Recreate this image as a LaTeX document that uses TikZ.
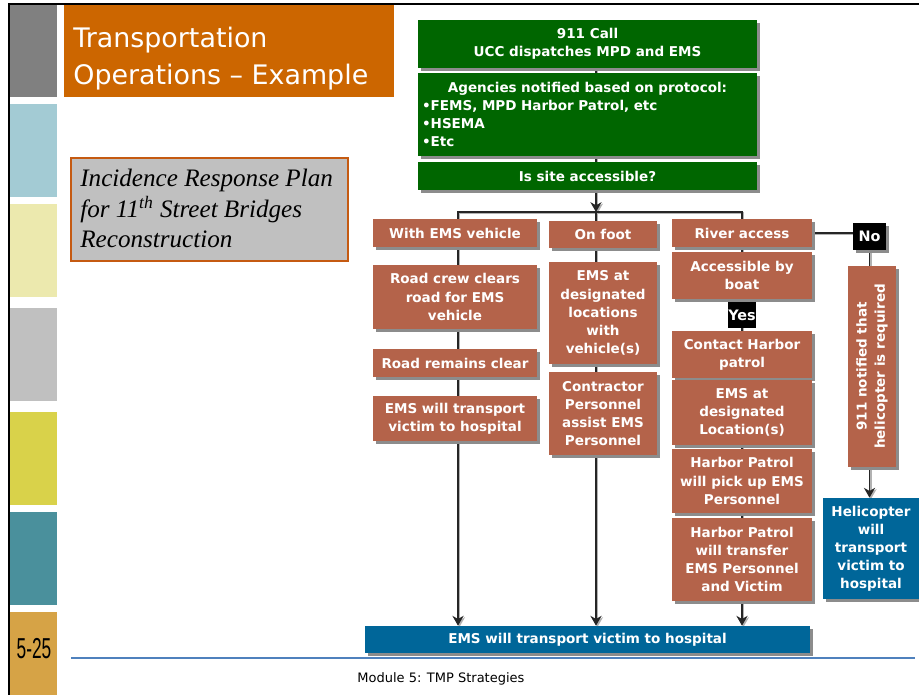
\documentclass[tikz,border=0pt]{standalone}
\usepackage{fontspec}
\setmainfont{DejaVu Sans}
\newfontfamily\itserif{Liberation Serif}
\newfontfamily\numsans{Liberation Sans}
\usetikzlibrary{arrows.meta,shadows,fit}
\definecolor{dgreen}{HTML}{006600}
\definecolor{brick}{RGB}{180,99,74}
\definecolor{dblue}{HTML}{006699}
\definecolor{titleor}{HTML}{CC6600}
\definecolor{rust}{HTML}{C55A11}
\definecolor{silver}{HTML}{C0C0C0}
\definecolor{sbgray}{HTML}{808080}
\definecolor{sbblue}{HTML}{A3CBD4}
\definecolor{sbyel}{HTML}{ECE9AE}
\definecolor{sbolive}{HTML}{D9D24A}
\definecolor{sbteal}{HTML}{4A909C}
\definecolor{sborange}{HTML}{D6A346}
\definecolor{footblue}{RGB}{79,129,189}
\newcommand\boxfont{\fontsize{7.7}{10.3}\selectfont\bfseries}
\newcommand\titlefont{\fontsize{15.3}{21}\selectfont}
\newcommand\planfont{\itserif\itshape\fontsize{14.3}{17}\selectfont}
\newcommand\cn[2][]{\draw[conshadow,#1] #2; \draw[conline,#1] #2;}
% box from pixel corners: style, name, x1, y1, x2, y2, text
\newcommand\bx[7]{\node[#1, minimum width={(#5-#3)*0.02cm}, minimum height={(#6-#4)*0.02cm}] (#2) at ({(#3+#5)/2},{(#4+#6)/2}) {#7};}
\pgfdeclarelayer{bg}
\pgfsetlayers{bg,main}
\begin{document}
\begin{tikzpicture}[x=0.02cm,y=-0.02cm,
  plain/.style={inner sep=0pt, text=white, font=\boxfont, align=center},
  box/.style={plain,
    drop shadow={shadow xshift=1.6pt, shadow yshift=-1.6pt, opacity=1, fill=black!45}},
  rbox/.style={box, fill=brick},
  gbox/.style={box, fill=dgreen},
  bbox/.style={box, fill=dblue},
  kbox/.style={box, fill=black},
  ybox/.style={plain, fill=black, font=\fontsize{8.2}{10}\selectfont\bfseries},
  conline/.style={draw=black!85, line width=0.6pt},
  conshadow/.style={draw=black!30, line width=1.1pt, transform canvas={shift={(1.4,1.4)}}},
  arr/.style={-{Stealth[length=5.6pt,width=6.4pt,inset=1.8pt]}},
  arrboth/.style={{Stealth[length=5.6pt,width=6.4pt,inset=1.8pt]}-{Stealth[length=5.6pt,width=6.4pt,inset=1.8pt]}},
  ttl/.style={anchor=base west, text=white, font=\titlefont, inner sep=0pt},
  pln/.style={anchor=base west, font=\planfont, inner sep=0pt}
]
\useasboundingbox (0,0) rectangle (919,695);
% sidebar
\fill[sbgray] (10,4) rectangle (57,97);
\fill[sbblue] (10,104) rectangle (57,197);
\fill[sbyel] (10,204) rectangle (57,297);
\fill[silver] (10,308) rectangle (57,401);
\fill[sbolive] (10,412) rectangle (57,505);
\fill[sbteal] (10,512) rectangle (57,605);
\fill[sborange] (10,612) rectangle (57,695);
\node[font=\numsans\fontsize{16.4}{18}\selectfont, inner sep=0pt] (pg) at (34,649) {\scalebox{0.6}[1]{5-25}};
% title
\fill[titleor] (64,5) rectangle (394,97);
\node[ttl] (t1) at (73,48) {Transportation};
\node[ttl] (t2) at (73,85) {Operations – Example};
\draw[line width=1.2pt] (9,695) -- (9,4.3) -- (919,4.3);
% plan box
\node[draw=rust, fill=silver, line width=0.6pt, inner sep=0pt, fit={(71,158) (348,261)}] (plan) {};
\node[pln] (p1) at (80,187) {Incidence Response Plan};
\node[pln] (p2) at (80,218) {for 11\textsuperscript{th} Street Bridges};
\node[pln] (p3) at (80,248) {Reconstruction};
% footer
\draw[footblue, line width=1.1pt] (71,658) -- (915,658);
\node[anchor=base west, inner sep=0pt, font=\fontsize{7.4}{9}\selectfont] (foot) at (357,682) {Module 5: TMP Strategies};
% green boxes
\bx{gbox}{g1}{418}{20}{757}{68}{911 Call\\UCC dispatches MPD and EMS}
\bx{gbox,text width=6.62cm,align=left}{g2}{418}{73}{757}{156}{\makebox[6.62cm]{Agencies notified based on protocol:}\\•FEMS, MPD Harbor Patrol, etc\\•HSEMA\\•Etc}
\bx{gbox}{g3}{418}{162}{757}{190}{Is site accessible?}
% left column
\bx{rbox}{l1}{373}{219}{537}{247}{With EMS vehicle}
\bx{rbox}{l2}{373}{265}{537}{329}{Road crew clears\\road for EMS\\vehicle}
\bx{rbox}{l3}{373}{349}{537}{377}{Road remains clear}
\bx{rbox}{l4}{373}{396}{537}{441}{EMS will transport\\victim to hospital}
% middle column
\bx{rbox}{m1}{549}{221}{657}{248}{On foot}
\bx{rbox}{m2}{549}{262}{657}{364}{EMS at\\designated\\locations\\with\\vehicle(s)}
\bx{rbox}{m3}{549}{372}{657}{455}{Contractor\\Personnel\\assist EMS\\Personnel}
% right column
\bx{rbox}{r1}{672}{219}{812}{247}{River access}
\bx{rbox}{r2}{672}{252}{812}{299}{Accessible by\\boat}
\bx{ybox}{yes}{728}{302}{756}{328}{Yes}
\bx{rbox}{r3}{672}{331}{812}{378}{Contact Harbor\\patrol}
\bx{rbox}{r4}{672}{380}{812}{445}{EMS at\\designated\\Location(s)}
\bx{rbox}{r5}{672}{449}{812}{513}{Harbor Patrol\\will pick up EMS\\Personnel}
\bx{rbox}{r6}{672}{518}{812}{601}{Harbor Patrol\\will transfer\\EMS Personnel\\and Victim}
% helicopter branch
\bx{kbox,font=\fontsize{8.2}{10}\selectfont\bfseries}{no}{853}{223}{886}{250}{No}
\bx{rbox}{hv}{848}{266}{896}{467}{}
\node[rotate=90, font=\boxfont, text=white, align=center, inner sep=0pt] (hvt) at (hv.center) {911 notified that\\helicopter is required};
\bx{bbox}{heli}{823}{498}{919}{599}{Helicopter\\will\\transport\\victim to\\hospital}
% bottom
\bx{bbox}{bot}{365}{626}{810}{653}{EMS will transport victim to hospital}
% connectors
\coordinate (tx) at (596,0);
\coordinate (sp) at (596,212);
\coordinate (hl) at (458,212);
\coordinate (hr) at (742,212);
\begin{pgfonlayer}{bg}
\cn{(g1.south -| tx) -- (g2.north -| tx)}
\cn{(g2.south -| tx) -- (g3.north -| tx)}
\cn[arr]{(g3.south -| tx) -- (sp)}
\cn[arrboth]{(bot.north -| hl) -- (hl) -- (hr) -- (bot.north -| hr)}
\cn[arr]{(sp) -- (bot.north -| sp)}
\cn{(r1.east) -- (r1.east -| no.west)}
\cn[arr]{(no.south) -- (no.south |- heli.north)}
\end{pgfonlayer}
\end{tikzpicture}
\end{document}
